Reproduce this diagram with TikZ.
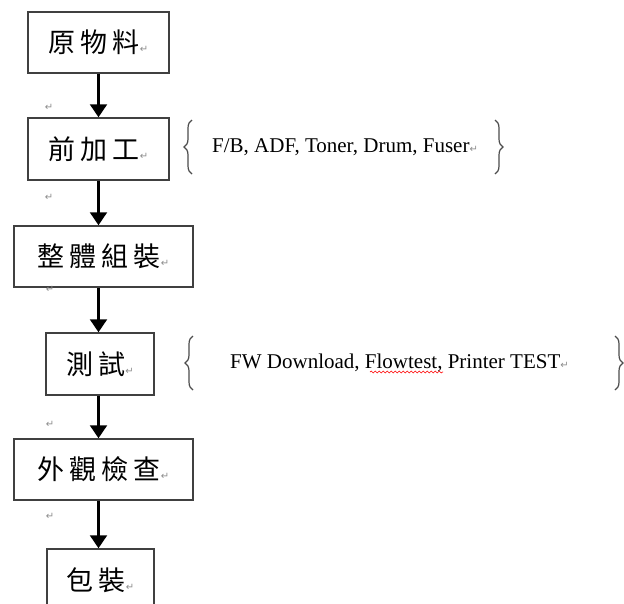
\documentclass[tikz,border=0pt]{standalone}
\usepackage{fontspec}
\setmainfont{Liberation Serif}
\newfontfamily\cjk{Noto Sans CJK TC}
\newfontfamily\markfont{DejaVu Sans}
\usetikzlibrary{arrows.meta,decorations.pathreplacing,decorations.pathmorphing}

\newcommand{\cgap}{\hspace{5pt}}
\newcommand{\retmark}{{\markfont\fontsize{10}{10}\selectfont\color{black!45}↵}}

\begin{document}
\begin{tikzpicture}[x=1pt,y=-1pt]
        \tikzstyle{every node}=[inner sep=0pt]
        \tikzstyle{stepbox}=[draw=black!75, line width=1.5pt, font=\cjk\fontsize{27}{27}\selectfont]
        \tikzstyle{flow}=[-{Triangle[width=17pt,length=13pt]}, line width=2.2pt]
        \tikzstyle{note}=[anchor=west, font=\fontsize{21}{21}\selectfont]
        \tikzstyle{curly}=[decorate, decoration={brace,amplitude=8pt}, draw=black!70, line width=1.2pt]

        \useasboundingbox (0,0) rectangle (624,603);
        \clip (0,0) rectangle (624,603);

        % process boxes
        \node   (s0)    [stepbox, minimum width=141pt, minimum height=61pt] at (98.5,42.5)  {原\cgap 物\cgap 料\retmark};
        \node   (s1)    [stepbox, minimum width=141pt, minimum height=62pt] at (98.5,149)   {前\cgap 加\cgap 工\retmark};
        \node   (s2)    [stepbox, minimum width=179pt, minimum height=61pt] at (103.5,256.5) {整\cgap 體\cgap 組\cgap 裝\retmark};
        \node   (s3)    [stepbox, minimum width=108pt, minimum height=62pt] at (100,364)    {測\cgap 試\retmark};
        \node   (s4)    [stepbox, minimum width=179pt, minimum height=61pt] at (103.5,469.5) {外\cgap 觀\cgap 檢\cgap 查\retmark};
        \node   (s5)    [stepbox, minimum width=107pt, minimum height=62pt] at (100.5,580)  {包\cgap 裝\retmark};

        \draw[flow] (s0) -- (s1);
        \draw[flow] (s1) -- (s1 |- s2.north);
        \draw[flow] (s1 |- s2.south) -- (s1 |- s3.north);
        \draw[flow] (s1 |- s3.south) -- (s1 |- s4.north);
        \draw[flow] (s1 |- s4.south) -- (s1 |- s5.north);

        % notes
        \node   (n1)    [note] at (212,147) {F/B, ADF, Toner, Drum, Fuser\retmark};
        \node   (n2)    [note] at (230,363) {FW Download, Flowtest, Printer TEST\retmark};
        \draw[red, line width=0.6pt, decorate, decoration={snake,segment length=4pt,amplitude=0.9pt}] (370,372) -- (443,372);

        \draw[curly] (192,174) -- (192,120);
        \draw[curly] (495,120) -- (495,174);
        \draw[curly] (193,390) -- (193,336);
        \draw[curly] (615,336) -- (615,390);

        % paragraph marks
        \node   (m0)    at (49,107) {\retmark};
        \node   (m1)    at (49,197) {\retmark};
        \node   (m2)    at (50,289) {\retmark};
        \node   (m3)    at (50,424) {\retmark};
        \node   (m4)    at (50,516) {\retmark};
    \end{tikzpicture}
\end{document}
